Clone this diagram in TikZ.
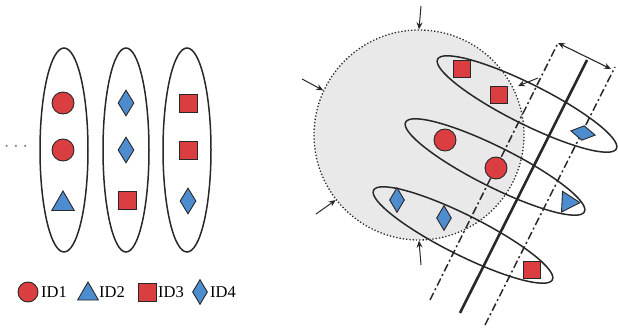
\documentclass[tikz,border=0pt]{standalone}
\usepackage{fontspec}
\setmainfont{Liberation Serif}
\usetikzlibrary{arrows.meta, shapes.geometric}
\definecolor{idred}   {RGB}{218, 62,  64}
\definecolor{idblue}  {RGB}{78,  140, 208}
\definecolor{edgegray}{RGB}{40,  40,  40}
\definecolor{zonegray}{RGB}{233, 233, 233}

\begin{document}
\begin{tikzpicture}[
  x=1pt, y=-1pt,
  >={Stealth[length=7pt, width=6pt]},
  mk/.style={draw=edgegray, line width=0.9pt, inner sep=0pt},
  id1/.style={mk, circle, fill=idred, minimum size=22pt},
  id2/.style={mk, regular polygon, regular polygon sides=3, fill=idblue, minimum size=26pt},
  id3/.style={mk, rectangle, fill=idred, minimum size=18pt},
  id4/.style={mk, diamond, fill=idblue, minimum width=16pt, minimum height=26pt},
  grp/.style={draw=edgegray, line width=1.5pt, ellipse, inner sep=0pt},
  dashdot/.style={edgegray, line width=1.5pt, dash pattern=on 8pt off 3pt on 2pt off 3pt},
  push/.style={->, edgegray, line width=1pt},
  lbl/.style={anchor=west, inner sep=0pt, font=\fontsize{16.5}{18}\selectfont},
]

%% ─── 座標系 ────────────────────────────────────────────────
%%  1 px = 1 pt,  原点は左上,  y 軸は下向き
\useasboundingbox (0,0) rectangle (618,331);

% ── 左パネル: 縦長の楕円 3 つ ────────────────────────────────
\node[grp, minimum width=48pt, minimum height=204pt] (colA) at (64,150) {};
\node[grp, minimum width=46pt, minimum height=204pt] (colB) at (126,150) {};
\node[grp, minimum width=48pt, minimum height=204pt] (colC) at (187,150) {};

\node[text=gray, inner sep=0pt, font=\fontsize{20}{20}\selectfont] (more) at (16,147) {$\cdots$};

% 列 A
\node[id1] (a1) at (63,103) {};
\node[id1] (a2) at (63,150) {};
\node[id2] (a3) at (63,204) {};
% 列 B
\node[id4] (b1) at (126,103) {};
\node[id4] (b2) at (126,150) {};
\node[id3] (b3) at (127,200) {};
% 列 C
\node[id3] (c1) at (188,103) {};
\node[id3] (c2) at (188,150) {};
\node[id4] (c3) at (188,201) {};

% ── 凡例 ────────────────────────────────────────────────────
\node[id1, minimum size=20pt] (k1) at (28,292) {};
\node[lbl] (t1) at (41,292) {ID1};
\node[id2, minimum size=24pt] (k2) at (88,294) {};
\node[lbl] (t2) at (99,292) {ID2};
\node[id3] (k3) at (147,292) {};
\node[lbl] (t3) at (158,292) {ID3};
\node[id4, minimum width=15pt, minimum height=25pt] (k4) at (200,292) {};
\node[lbl] (t4) at (210,292) {ID4};

% ── 右パネル: 圧縮される領域（灰色の点線円） ───────────────
\node[circle, fill=zonegray, draw=edgegray, dotted, line width=1.3pt,
  minimum size=210pt, inner sep=0pt] (zone) at (419,135) {};

% 外側から押す矢印
\coordinate (pT) at (421,6);
\coordinate (pL) at (302,79);
\coordinate (pD) at (316,214);
\coordinate (pB) at (421,265);
\draw[push] (pT) -- (zone.90);
\draw[push] (pL) -- (zone.155);
\draw[push] (pD) -- (zone.218);
\draw[push] (pB) -- (zone.270);

% ── 平行線（中心の実線と両側の一点鎖線） ───────────────────
\coordinate (lLo) at (430,300);  \coordinate (lHi) at (558,43);
\coordinate (mLo) at (460,313);  \coordinate (mHi) at (587,60);
\coordinate (rLo) at (485,325);  \coordinate (rHi) at (615,67);
\draw[dashdot] (lLo) -- (lHi);
\draw[dashdot] (rLo) -- (rHi);
\draw[edgegray, line width=2.6pt] (mLo) -- (mHi);

% 帯の幅
\coordinate (wR) at (611,69);
\draw[<->, edgegray, line width=1.1pt] (lHi) -- (wR);

% 帯から円への短い矢印
\coordinate (sA) at (538,78);
\coordinate (sB) at (518,86);
\draw[push] (sA) -- (sB);

% ── 傾いた楕円（線に直交） ─────────────────────────────────
\node[grp, minimum width=200pt, minimum height=40pt, rotate=-26.6] (rowA) at (527,104) {};
\node[grp, minimum width=200pt, minimum height=40pt, rotate=-26.6] (rowB) at (495,167) {};
\node[grp, minimum width=200pt, minimum height=40pt, rotate=-26.6] (rowC) at (463,235) {};

% 行 A
\node[id3, minimum size=17pt] (p1) at (462,69) {};
\node[id3, minimum size=17pt] (p2) at (499,95) {};
\node[id4, minimum width=15pt, minimum height=25pt, rotate=-100] (p3) at (583,133) {};
% 行 B
\node[id1] (q1) at (445,140) {};
\node[id1] (q2) at (496,168) {};
\node[id2, minimum size=24pt, rotate=27] (q3) at (568,202) {};
% 行 C
\node[id4, minimum width=15pt, minimum height=25pt] (r1) at (397,200) {};
\node[id4, minimum width=15pt, minimum height=25pt] (r2) at (444,218) {};
\node[id3, minimum size=17pt] (r3) at (532,270) {};

\end{tikzpicture}
\end{document}
